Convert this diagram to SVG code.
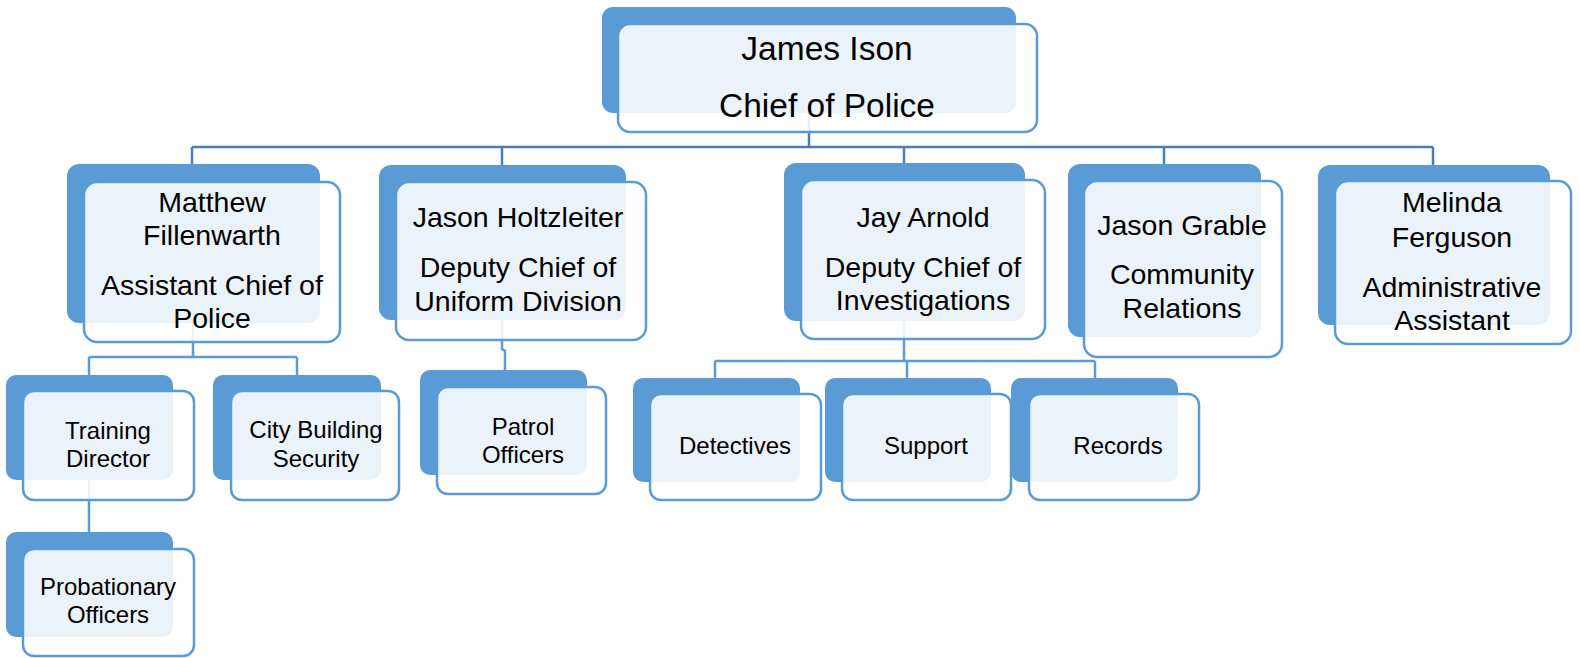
<svg xmlns="http://www.w3.org/2000/svg" width="1580" height="658" viewBox="0 0 1580 658">
<style>
.bk{fill:#5b9bd5;}
.fr{fill:#ffffff;fill-opacity:0.88;stroke:#5b9bd5;stroke-width:2.5;}
.c1{fill:none;stroke:#4a7ebb;stroke-width:2.5;}
.c2{fill:none;stroke:#5b9bd5;stroke-width:2.5;}
text{font-family:"Liberation Sans",Arial,sans-serif;fill:#000;text-anchor:middle;}
.t0{font-size:33.5px;}
.t1{font-size:28.5px;}
.t2{font-size:24px;}
</style>
<rect width="1580" height="658" fill="#ffffff"/>
<g id="connectors">
<path class="c1" d="M809,113 V147 M192,147 H1433 M192,147 V164 M502,147 V166 M904,147 V163 M1164,147 V164 M1433,147 V165"/>
<path class="c2" d="M193,323 V357 M89,357 H297 M89,357 V375 M297,357 V375"/>
<path class="c2" d="M89,480 V532"/>
<path class="c2" d="M502,320 V349 L505,351 V370"/>
<path class="c2" d="M904,321 V361 M715,361 H1095 M715,361 V378 M907,361 V378 M1095,361 V378"/>
</g>
<g id="chief">
<rect class="bk" x="602" y="7" width="414" height="106" rx="11"/>
<rect class="fr" x="618" y="24" width="419" height="108" rx="12"/>
<text class="t0" x="827" y="60">James Ison</text>
<text class="t0" x="827" y="117">Chief of Police</text>
</g>
<g id="matthew">
<rect class="bk" x="67" y="164" width="253" height="159" rx="12"/>
<rect class="fr" x="84" y="182" width="256" height="160" rx="13"/>
<text class="t1" x="212" y="212">Matthew</text>
<text class="t1" x="212" y="245">Fillenwarth</text>
<text class="t1" x="212" y="295">Assistant Chief of</text>
<text class="t1" x="212" y="328">Police</text>
</g>
<g id="holtzleiter">
<rect class="bk" x="379" y="165" width="247" height="155" rx="12"/>
<rect class="fr" x="396" y="182" width="250" height="158" rx="13"/>
<text class="t1" x="518" y="227">Jason Holtzleiter</text>
<text class="t1" x="518" y="277">Deputy Chief of</text>
<text class="t1" x="518" y="311">Uniform Division</text>
</g>
<g id="arnold">
<rect class="bk" x="784" y="163" width="241" height="158" rx="12"/>
<rect class="fr" x="801" y="180" width="244" height="159" rx="13"/>
<text class="t1" x="923" y="227">Jay Arnold</text>
<text class="t1" x="923" y="277">Deputy Chief of</text>
<text class="t1" x="923" y="310">Investigations</text>
</g>
<g id="grable">
<rect class="bk" x="1068" y="164" width="193" height="173" rx="12"/>
<rect class="fr" x="1084" y="181" width="198" height="176" rx="13"/>
<text class="t1" x="1182" y="235">Jason Grable</text>
<text class="t1" x="1182" y="284">Community</text>
<text class="t1" x="1182" y="318">Relations</text>
</g>
<g id="ferguson">
<rect class="bk" x="1318" y="165" width="232" height="160" rx="12"/>
<rect class="fr" x="1335" y="181" width="236" height="163" rx="13"/>
<text class="t1" x="1452" y="212">Melinda</text>
<text class="t1" x="1452" y="247">Ferguson</text>
<text class="t1" x="1452" y="297">Administrative</text>
<text class="t1" x="1452" y="330">Assistant</text>
</g>
<g id="training">
<rect class="bk" x="6" y="375" width="167" height="105" rx="10"/>
<rect class="fr" x="23" y="391" width="171" height="109" rx="11"/>
<text class="t2" x="108" y="439">Training</text>
<text class="t2" x="108" y="467">Director</text>
</g>
<g id="security">
<rect class="bk" x="213" y="375" width="168" height="105" rx="10"/>
<rect class="fr" x="231" y="391" width="168" height="109" rx="11"/>
<text class="t2" x="316" y="438">City Building</text>
<text class="t2" x="316" y="467">Security</text>
</g>
<g id="probationary">
<rect class="bk" x="6" y="532" width="167" height="105" rx="10"/>
<rect class="fr" x="23" y="549" width="171" height="107" rx="11"/>
<text class="t2" x="108" y="595">Probationary</text>
<text class="t2" x="108" y="623">Officers</text>
</g>
<g id="patrol">
<rect class="bk" x="420" y="370" width="167" height="105" rx="10"/>
<rect class="fr" x="437" y="387" width="169" height="107" rx="11"/>
<text class="t2" x="523" y="435">Patrol</text>
<text class="t2" x="523" y="463">Officers</text>
</g>
<g id="detectives">
<rect class="bk" x="633" y="378" width="167" height="104" rx="10"/>
<rect class="fr" x="650" y="394" width="171" height="106" rx="11"/>
<text class="t2" x="735" y="454">Detectives</text>
</g>
<g id="support">
<rect class="bk" x="825" y="378" width="166" height="104" rx="10"/>
<rect class="fr" x="842" y="394" width="169" height="106" rx="11"/>
<text class="t2" x="926" y="454">Support</text>
</g>
<g id="records">
<rect class="bk" x="1011" y="378" width="167" height="104" rx="10"/>
<rect class="fr" x="1029" y="394" width="170" height="106" rx="11"/>
<text class="t2" x="1118" y="454">Records</text>
</g>
</svg>
